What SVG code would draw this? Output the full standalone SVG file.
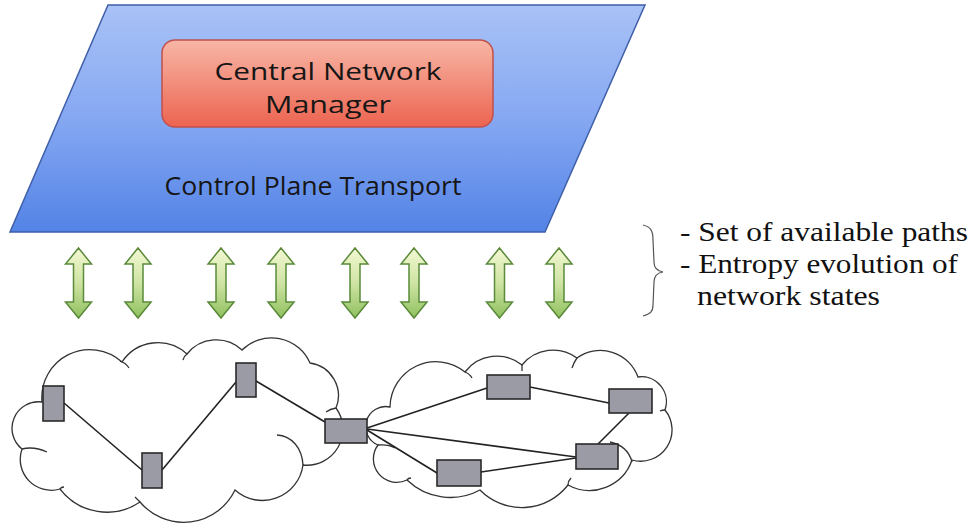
<svg xmlns="http://www.w3.org/2000/svg" width="971" height="523" viewBox="0 0 971 523">
<defs>
<linearGradient id="gBlue" x1="0" y1="0" x2="0" y2="1">
<stop offset="0" stop-color="#a9c2f6"/>
<stop offset="0.5" stop-color="#86a8f2"/>
<stop offset="1" stop-color="#5383e6"/>
</linearGradient>
<linearGradient id="gRed" x1="0" y1="0" x2="0" y2="1">
<stop offset="0" stop-color="#f8b6a6"/>
<stop offset="1" stop-color="#ec6450"/>
</linearGradient>
<linearGradient id="gGreen" x1="0" y1="0" x2="0" y2="1">
<stop offset="0" stop-color="#f3f8d2"/>
<stop offset="0.5" stop-color="#cfe4a4"/>
<stop offset="1" stop-color="#8fc05e"/>
</linearGradient>
<path id="dblArrow" d="M0,0 L13,16 L5,16 L5,54 L13,54 L0,70 L-13,54 L-5,54 L-5,16 L-13,16 Z"/>
</defs>
<style>
.cloud{fill:#fff;stroke:#333;stroke-width:1.3}
.crease{fill:none;stroke:#333;stroke-width:1.3}
.edge{stroke:#222;stroke-width:1.6;fill:none}
.node{fill:#9b9ba6;stroke:#2a2a2a;stroke-width:1.6}
.arrow{fill:url(#gGreen);stroke:#5a8a3a;stroke-width:1.5}
.sans{font-family:"Open Sans","Liberation Sans",sans-serif;fill:#161616}
.serif{font-family:"Liberation Serif","Times New Roman",serif;fill:#111}
</style>
<rect width="971" height="523" fill="#fff"/>

<g id="control-plane">
<polygon points="108,5 645,5 545,232 10,232" fill="url(#gBlue)" stroke="#3f5fa8" stroke-width="1.5"/>
<text class="sans" x="313" y="195" font-size="25" text-anchor="middle" textLength="297" lengthAdjust="spacingAndGlyphs">Control Plane Transport</text>
</g>

<g id="central-network-manager">
<rect x="162" y="40" width="331" height="87" rx="13" fill="url(#gRed)" stroke="#c0504d" stroke-width="1.5"/>
<text class="sans" x="328" y="80" font-size="24" text-anchor="middle" textLength="227" lengthAdjust="spacingAndGlyphs">Central Network</text>
<text class="sans" x="328" y="113" font-size="24" text-anchor="middle" textLength="126" lengthAdjust="spacingAndGlyphs">Manager</text>
</g>

<g id="arrows">
<use href="#dblArrow" class="arrow" x="78.5" y="248"/>
<use href="#dblArrow" class="arrow" x="138" y="248"/>
<use href="#dblArrow" class="arrow" x="221" y="248"/>
<use href="#dblArrow" class="arrow" x="281" y="248"/>
<use href="#dblArrow" class="arrow" x="355" y="248"/>
<use href="#dblArrow" class="arrow" x="414" y="248"/>
<use href="#dblArrow" class="arrow" x="499.5" y="248"/>
<use href="#dblArrow" class="arrow" x="559" y="248"/>
</g>

<g id="annotation">
<path d="M643,225 C651,227 653,231 653,240 L654,262 C654,268 657,271 663,272 C657,273 654,276 654,282 L653,305 C653,312 650,314 643,316" fill="none" stroke="#555" stroke-width="1.2"/>
<text class="serif" x="680" y="241" font-size="28" textLength="288" lengthAdjust="spacingAndGlyphs">- Set of available paths</text>
<text class="serif" x="680" y="273" font-size="28" textLength="278" lengthAdjust="spacingAndGlyphs">- Entropy evolution of</text>
<text class="serif" x="697" y="305" font-size="28" textLength="183" lengthAdjust="spacingAndGlyphs">network states</text>
</g>

<g id="cloud-left">
<path class="cloud" d="M42,402 A48,48 0 0 1 122,362 A43,43 0 0 1 187,354 A37.5,37.5 0 0 1 242,350 A42,42 0 0 1 310,363 A33,33 0 0 1 336,408 A36,36 0 0 1 303,465 A41,41 0 0 1 235,490 A57,57 0 0 1 140,502 A59,59 0 0 1 60,489 A31,31 0 0 1 22,449 A26.5,26.5 0 0 1 42,402 Z"/>
<path class="crease" d="M120,361 Q126,363 129,368"/>
<path class="crease" d="M22,449 Q34,446 47,452"/>
<path class="crease" d="M277,435 C292,436 302,448 303,465"/>
<path class="crease" d="M336,408 Q330,409 326,412"/>
<path class="crease" d="M187,354 Q184,356 183,360"/>
<path class="crease" d="M140,502 Q137,499 135,497"/>
<path class="crease" d="M60,489 Q61,487 64,487"/>
</g>

<g id="cloud-right">
<path class="cloud" d="M390,407 A46,46 0 0 1 465,372 A40,40 0 0 1 522,365 A40,40 0 0 1 577,358 A40,40 0 0 1 638,377 A25,25 0 0 1 665,410 A31.4,31.4 0 0 1 632,460 A45,45 0 0 1 568,485 A58.5,58.5 0 0 1 480,490 A62.6,62.6 0 0 1 407,480 A23.4,23.4 0 0 1 378,445 A20,20 0 0 1 390,407 Z"/>
<path class="crease" d="M465,372 Q470,374 472,378"/>
<path class="crease" d="M522,365 Q522,368 522,371"/>
<path class="crease" d="M577,358 Q574,362 572,368"/>
<path class="crease" d="M610,442 Q628,446 632,462"/>
<path class="crease" d="M568,485 Q568,481 571,478"/>
<path class="crease" d="M378,445 Q388,444 395,448"/>
<path class="crease" d="M407,480 Q408,478 411,478"/>
<path class="crease" d="M665,410 Q662,410 660,411"/>
</g>

<g id="connectors">
<line class="edge" x1="64" y1="403" x2="142" y2="470"/>
<line class="edge" x1="162" y1="470" x2="236" y2="382"/>
<line class="edge" x1="256" y1="381" x2="325" y2="422"/>
<line class="edge" x1="367" y1="428" x2="487" y2="388"/>
<line class="edge" x1="367" y1="429" x2="576" y2="457"/>
<line class="edge" x1="367" y1="430" x2="437" y2="473"/>
<line class="edge" x1="481" y1="472" x2="576" y2="458"/>
<line class="edge" x1="530" y1="387" x2="609" y2="403"/>
<line class="edge" x1="629" y1="413" x2="598" y2="444"/>
</g>

<g id="node-a"><rect class="node" x="43" y="386" width="21" height="35"/></g>
<g id="node-b"><rect class="node" x="142" y="453" width="20" height="35"/></g>
<g id="node-c"><rect class="node" x="236" y="363" width="20" height="34"/></g>
<g id="node-d"><rect class="node" x="325" y="419" width="42" height="24"/></g>
<g id="node-e"><rect class="node" x="487" y="375" width="43" height="24"/></g>
<g id="node-f"><rect class="node" x="609" y="389" width="43" height="24"/></g>
<g id="node-g"><rect class="node" x="576" y="444" width="42" height="25"/></g>
<g id="node-h"><rect class="node" x="437" y="460" width="44" height="26"/></g>
</svg>
